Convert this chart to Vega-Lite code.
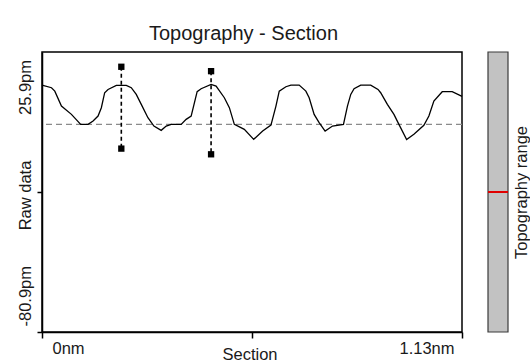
{
  "$schema": "https://vega.github.io/schema/vega-lite/v6.json",
  "padding": {"left": 16, "top": 22, "right": 0, "bottom": 0},
  "background": "white",
  "bounds": "flush",
  "spacing": 26,
  "config": {
    "font": "Liberation Sans",
    "axis": {"labelFont": "Liberation Sans", "titleFont": "Liberation Sans", "labelFontSize": 16.5, "titleFontSize": 16.5, "titleFontWeight": "normal", "labelColor": "#1a1a1a", "titleColor": "#1a1a1a", "grid": false}
  },
  "datasets": {
    "profile": [
      {"x": 0, "y": 13.26}, {"x": 0.0255, "y": 12.27}, {"x": 0.0344, "y": 10.98}, {"x": 0.0523, "y": 5.27}, {"x": 0.0792, "y": 2.11},
      {"x": 0.1041, "y": -1.7}, {"x": 0.124, "y": -1.7}, {"x": 0.1374, "y": -0.44}, {"x": 0.1508, "y": 1.46}, {"x": 0.1597, "y": 4.66},
      {"x": 0.1686, "y": 10.37}, {"x": 0.1777, "y": 11.62}, {"x": 0.2, "y": 13.15}, {"x": 0.2268, "y": 13.15}, {"x": 0.2402, "y": 12.27},
      {"x": 0.2536, "y": 9.72}, {"x": 0.2671, "y": 5.91}, {"x": 0.285, "y": 0.85}, {"x": 0.3011, "y": -2.35}, {"x": 0.3207, "y": -3.98},
      {"x": 0.3342, "y": -2.35}, {"x": 0.3476, "y": -1.7}, {"x": 0.3744, "y": -1.7}, {"x": 0.3878, "y": 0.2}, {"x": 0.4013, "y": 1.46},
      {"x": 0.4174, "y": 10.75}, {"x": 0.4281, "y": 11.89}, {"x": 0.4549, "y": 13.53}, {"x": 0.4684, "y": 12.88}, {"x": 0.4906, "y": 8.46},
      {"x": 0.5041, "y": 4.66}, {"x": 0.5175, "y": -1.7}, {"x": 0.5443, "y": -3.6}, {"x": 0.5696, "y": -7.41}, {"x": 0.5937, "y": -4.25},
      {"x": 0.616, "y": -1.97}, {"x": 0.6294, "y": 5.27}, {"x": 0.6383, "y": 10.98}, {"x": 0.6562, "y": 12.65}, {"x": 0.6697, "y": 13.26},
      {"x": 0.6919, "y": 13.26}, {"x": 0.7099, "y": 10.98}, {"x": 0.7188, "y": 8.46}, {"x": 0.7322, "y": 2.11}, {"x": 0.7456, "y": -1.05},
      {"x": 0.7617, "y": -4.25}, {"x": 0.7816, "y": -2.35}, {"x": 0.8111, "y": -1.7}, {"x": 0.8218, "y": 5.27}, {"x": 0.8307, "y": 9.72},
      {"x": 0.8396, "y": 11.89}, {"x": 0.8575, "y": 13.26}, {"x": 0.8844, "y": 13.26}, {"x": 0.904, "y": 11.62}, {"x": 0.9112, "y": 10.37},
      {"x": 0.9292, "y": 5.91}, {"x": 0.9469, "y": 2.11}, {"x": 0.9603, "y": -1.7}, {"x": 0.981, "y": -7.53}, {"x": 1.0006, "y": -5.51},
      {"x": 1.0274, "y": -2.08}, {"x": 1.0409, "y": 1.46}, {"x": 1.0543, "y": 7.17}, {"x": 1.0768, "y": 10.75}, {"x": 1.1037, "y": 10.75},
      {"x": 1.13, "y": 8.96}
    ],
    "markers": [
      {"x": 0.2134, "top": 20.27, "bottom": -10.95},
      {"x": 0.4549, "top": 18.59, "bottom": -13.12}
    ],
    "mean": [{"level": -1.7}],
    "range": [{"lo": -80.9, "hi": 25.9, "current": -27.5}]
  },
  "hconcat": [
    {
      "width": 420,
      "height": 280,
      "view": {"stroke": "#000000", "strokeWidth": 1.5},
      "title": {"text": "Topography - Section", "fontSize": 20, "fontWeight": "normal", "font": "Liberation Sans", "color": "#1a1a1a", "anchor": "middle", "frame": "group", "offset": -7.5, "baseline": "alphabetic", "dx": -8.5},
      "layer": [
        {
          "data": {"name": "mean"},
          "mark": {"type": "rule", "color": "#8a8a8a", "strokeDash": [6, 4], "strokeWidth": 1.2},
          "encoding": {"y": {"field": "level", "type": "quantitative", "scale": {"domain": [-80.9, 25.9], "nice": false, "zero": false}}}
        },
        {
          "data": {"name": "profile"},
          "mark": {"type": "line", "color": "#000000", "strokeWidth": 1.3},
          "encoding": {
            "x": {"field": "x", "type": "quantitative", "scale": {"domain": [0, 1.13], "nice": false, "zero": false},
              "axis": {"values": [0, 0.565, 1.13], "title": "Section", "domainColor": "#000", "domainWidth": 1.5, "tickColor": "#000", "tickWidth": 1.5, "tickSize": 6,
                "labelExpr": "datum.value < 0.1 ? '0nm' : datum.value > 1 ? '1.13nm' : ''",
                "labelAlign": {"condition": [{"test": "datum.value < 0.1", "value": "left"}, {"test": "datum.value > 1", "value": "right"}], "value": "center"},
                "labelOffset": {"condition": [{"test": "datum.value < 0.1", "value": 10}, {"test": "datum.value > 1", "value": -8}], "value": 0},
                "labelBaseline": "top", "labelPadding": 2,
                "titleX": 207.5, "titleY": 27, "titleAlign": "center", "titleBaseline": "alphabetic"}},
            "y": {"field": "y", "type": "quantitative", "scale": {"domain": [-80.9, 25.9], "nice": false, "zero": false},
              "axis": {"values": [-80.9, -27.5, 25.9], "title": "Raw data", "domainColor": "#000", "domainWidth": 1.5, "tickColor": "#000", "tickWidth": 1.5, "tickSize": 5,
                "tickOpacity": {"condition": {"test": "datum.value > 0", "value": 0}, "value": 1},
                "labelExpr": "datum.value > 0 ? '25.9pm' : datum.value < -50 ? '-80.9pm' : ''",
                "labelAngle": 270,
                "labelAlign": {"condition": {"test": "datum.value > 0", "value": "right"}, "value": "left"},
                "labelOffset": {"condition": {"test": "datum.value > 0", "value": 7.5}, "value": -6},
                "labelBaseline": "alphabetic", "labelPadding": 6.5,
                "titleAngle": 270, "titleX": -11.5, "titleY": 143, "titleAlign": "center", "titleBaseline": "alphabetic"}}
          }
        },
        {
          "data": {"name": "markers"},
          "mark": {"type": "rule", "color": "#000000", "strokeDash": [4, 3], "strokeWidth": 1.6},
          "encoding": {
            "x": {"field": "x", "type": "quantitative"},
            "y": {"field": "top", "type": "quantitative"},
            "y2": {"field": "bottom"}
          }
        },
        {
          "data": {"name": "markers"},
          "mark": {"type": "point", "shape": "square", "filled": true, "color": "#000000", "opacity": 1, "size": 40},
          "encoding": {
            "x": {"field": "x", "type": "quantitative"},
            "y": {"field": "top", "type": "quantitative"}
          }
        },
        {
          "data": {"name": "markers"},
          "mark": {"type": "point", "shape": "square", "filled": true, "color": "#000000", "opacity": 1, "size": 40},
          "encoding": {
            "x": {"field": "x", "type": "quantitative"},
            "y": {"field": "bottom", "type": "quantitative"}
          }
        }
      ]
    },
    {
      "width": 20,
      "height": 280,
      "view": {"stroke": null},
      "data": {"name": "range"},
      "layer": [
        {
          "mark": {"type": "rect", "fill": "#c2c2c2", "stroke": "#3a3a3a", "strokeWidth": 1.2},
          "encoding": {
            "y": {"field": "lo", "type": "quantitative", "scale": {"domain": [-80.9, 25.9], "nice": false, "zero": false},
              "axis": {"orient": "right", "title": "Topography range", "labels": false, "ticks": false, "domain": false,
                "titleAngle": 270, "titleX": 18, "titleY": 140, "titleAlign": "center", "titleBaseline": "alphabetic"}},
            "y2": {"field": "hi"}
          }
        },
        {
          "mark": {"type": "rule", "color": "#e00000", "strokeWidth": 2},
          "encoding": {"y": {"field": "current", "type": "quantitative"}}
        }
      ]
    }
  ]
}
